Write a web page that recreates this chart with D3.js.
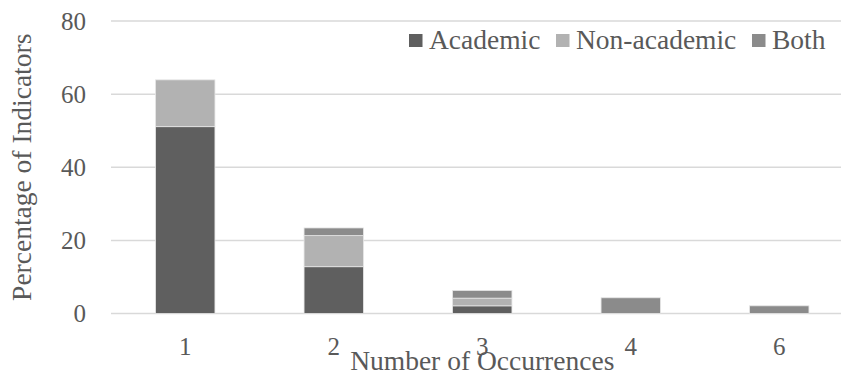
<!DOCTYPE html>
<html>
<head>
<meta charset="utf-8">
<script src="https://cdn.jsdelivr.net/npm/d3@7"></script>
<style>
  html, body { margin: 0; padding: 0; background: #fff; }
  svg { display: block; }
  text { font-family: "Liberation Serif", "Times New Roman", serif; fill: #595959; }
</style>
</head>
<body>
<svg id="chart" width="841" height="381"></svg>
<script>
// Occurrence counts on the x axis
const categories = ["1", "2", "3", "4", "6"];
// Percentage of indicators per group, stacked in this order
const seriesNames = ["Academic", "Non-academic", "Both"];
const academic    = [51.1, 12.8, 2.1, 0, 0];
const nonAcademic = [12.8, 8.5, 2.1, 0, 0];
const both        = [0, 2.1, 2.1, 4.3, 2.1];
const yTicks = [0, 20, 40, 60, 80];

const colors = ["#5f5f5f", "#b2b2b2", "#8b8b8b"];

const svg = d3.select("#chart");
const plotLeft = 111, plotRight = 853.5, plotTop = 21, plotBottom = 313.5;

const rows = categories.map((c, i) => ({
  cat: c,
  "Academic": academic[i],
  "Non-academic": nonAcademic[i],
  "Both": both[i]
}));

const x = d3.scaleBand()
  .domain(categories)
  .range([plotLeft, plotRight])
  .paddingInner(0.6)
  .paddingOuter(0.3);

const y = d3.scaleLinear().domain([0, 80]).range([plotBottom, plotTop]);

// Horizontal gridlines
svg.append("g")
  .selectAll("line")
  .data(yTicks)
  .join("line")
  .attr("x1", plotLeft)
  .attr("x2", plotRight)
  .attr("y1", d => y(d))
  .attr("y2", d => y(d))
  .attr("stroke", "#d9d9d9")
  .attr("stroke-width", 1.5);

// Y tick labels
const yAxis = d3.axisLeft(y).tickValues(yTicks).tickSize(0).tickPadding(25);
const gy = svg.append("g").attr("transform", `translate(${plotLeft},0)`).call(yAxis);
gy.select(".domain").remove();
gy.selectAll("text")
  .attr("font-size", 25)
  .attr("font-family", "Liberation Serif, Times New Roman, serif")
  .attr("fill", "#595959");

// X tick labels
const xAxis = d3.axisBottom(x).tickSize(0).tickPadding(24);
const gx = svg.append("g").attr("transform", `translate(0,${plotBottom})`).call(xAxis);
gx.select(".domain").remove();
gx.selectAll("text")
  .attr("font-size", 25)
  .attr("font-family", "Liberation Serif, Times New Roman, serif")
  .attr("fill", "#595959");

// Stacked bars
const stack = d3.stack().keys(seriesNames);
const layers = stack(rows);

svg.append("g")
  .selectAll("g")
  .data(layers)
  .join("g")
  .attr("fill", (d, i) => colors[i])
  .selectAll("rect")
  .data(d => d.filter(s => s[1] - s[0] > 0))
  .join("rect")
  .attr("x", d => x(d.data.cat))
  .attr("width", x.bandwidth())
  .attr("y", d => y(d[1]))
  .attr("height", d => y(d[0]) - y(d[1]))
  .attr("stroke", "#e6e6e6")
  .attr("stroke-width", 0.8);

// Axis titles
svg.append("text")
  .attr("transform", `translate(31,${(plotTop + plotBottom) / 2}) rotate(-90)`)
  .attr("text-anchor", "middle")
  .attr("font-size", 27.5)
  .text("Percentage of Indicators");

svg.append("text")
  .attr("x", (plotLeft + plotRight) / 2)
  .attr("y", 370)
  .attr("text-anchor", "middle")
  .attr("font-size", 27.5)
  .text("Number of Occurrences");

// Legend
const legendX = [409, 556, 752];
const legend = svg.append("g");
seriesNames.forEach((name, i) => {
  legend.append("rect")
    .attr("x", legendX[i])
    .attr("y", 34)
    .attr("width", 13.5)
    .attr("height", 13)
    .attr("fill", colors[i]);
  legend.append("text")
    .attr("x", legendX[i] + 20)
    .attr("y", 48.5)
    .attr("font-size", 27.5)
    .text(name);
});
</script>
</body>
</html>
